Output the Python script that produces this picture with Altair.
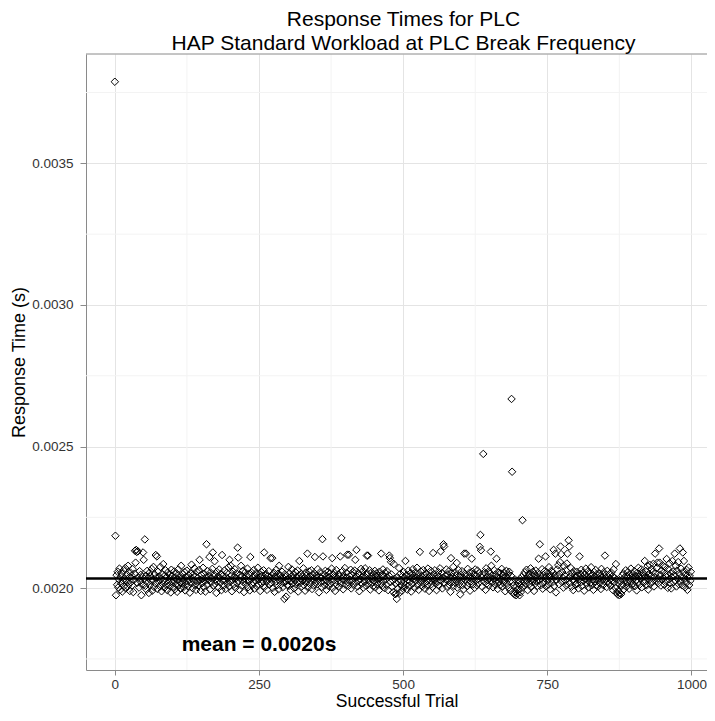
import altair as alt
import pandas as pd

# ---- text ----
title_lines = ["Response Times for PLC", "HAP Standard Workload at PLC Break Frequency"]
x_title = "Successful Trial"
y_title = "Response Time (s)"
annotation_text = "mean = 0.0020s"
annotation_x = [250]
annotation_y = [0.0018]
mean_response = [0.002034]   # horizontal mean line

# ---- ticks / grid ----
x_ticks = [0, 250, 500, 750, 1000]
y_ticks = [0.0020, 0.0025, 0.0030, 0.0035]
x_minor = [125, 375, 625, 875]
y_minor = [0.00175, 0.00225, 0.00275, 0.00325, 0.00375]

# ---- response times, microseconds (trial 0..999) ----
rt_000 = [3788, 2185, 1975, 2046, 2012, 2058, 2003, 2031, 2069, 1994,
          2040, 2017, 2052, 1988, 2027, 2063, 2008, 2035, 2071, 1999,
          2024, 2048, 2006, 2079, 2015, 2038, 1990, 2055, 2021, 2044,
          2010, 2067, 1986, 2029, 2051, 2132, 2090, 2135, 2128, 2019,
          2130, 2036, 2002, 2060, 2025, 2047, 1975, 2013, 2039, 2126,
          2100, 2033, 2172, 2008, 2044, 1995, 2061, 2020, 2037, 1983,
          2054, 2011, 2042, 2026, 2068, 1991, 2030, 2075, 2004, 2049,
          2018, 2117, 2036, 2112, 1997, 2058, 2023, 2041, 2007, 2075,
          2032, 1989, 2050, 2015, 2085, 2027, 2001, 2045, 2063, 2012,
          2038, 1993, 2056, 2022, 2009, 2047, 2034, 1985, 2065, 2019]
rt_100 = [2043, 2005, 2028, 2059, 1996, 2037, 2014, 2052, 1987, 2031,
          2066, 2010, 2040, 2021, 1998, 2079, 2035, 2016, 2049, 2003,
          2027, 2057, 1992, 2039, 2013, 2062, 2024, 2006, 2045, 2030,
          1984, 2053, 2018, 2083, 2034, 2000, 2047, 2026, 2070, 2011,
          2041, 1994, 2058, 2022, 2036, 2009, 2064, 2100, 2029, 1990,
          2046, 2017, 2033, 2072, 2004, 2051, 2025, 1988, 2038, 2155,
          2012, 2060, 2029, 2043, 2110, 1996, 2055, 2020, 2035, 2068,
          2126, 2008, 2048, 2095, 2015, 2031, 1983, 2057, 2024, 2041,
          2002, 2066, 2036, 2019, 2050, 1993, 2117, 2028, 2044, 2010,
          2062, 2027, 1997, 2039, 2054, 2016, 2033, 2074, 2006, 2100]
rt_200 = [2022, 2079, 2045, 1989, 2030, 2058, 2013, 2040, 2067, 2001,
          2035, 2052, 2018, 2143, 2108, 2026, 1995, 2047, 2037, 2079,
          2009, 2043, 2061, 2021, 1986, 2034, 2056, 2014, 2041, 2028,
          2069, 2003, 2049, 2024, 1992, 2110, 2032, 2055, 2011, 2038,
          2020, 2064, 1998, 2045, 2027, 2053, 2007, 2036, 2072, 2015,
          2031, 2048, 1990, 2039, 2057, 2017, 2044, 2025, 2063, 2126,
          2005, 2034, 2050, 2022, 1994, 2042, 2029, 2060, 2012, 2037,
          2106, 2019, 2046, 2106, 2001, 2033, 2054, 1987, 2040, 2023,
          2065, 2010, 2038, 2051, 1996, 2079, 2027, 2045, 2014, 2032,
          2058, 2003, 2036, 2020, 1962, 2049, 2026, 1970, 2043, 2011]
rt_300 = [2030, 2075, 2008, 2052, 2024, 1993, 2041, 2066, 2016, 2035,
          2047, 1999, 2028, 2057, 2013, 2039, 2021, 2062, 1988, 2044,
          2096, 2018, 2033, 2050, 2006, 2042, 2027, 2070, 2011, 2037,
          1991, 2055, 2023, 2046, 2122, 2002, 2031, 2059, 2015, 2040,
          2026, 2063, 1997, 2048, 2034, 2009, 2053, 2110, 2020, 2038,
          2045, 2014, 2067, 2029, 1985, 2041, 2056, 2019, 2036, 2004,
          2173, 2112, 2025, 2049, 2010, 2061, 2032, 1994, 2043, 2022,
          2058, 2007, 2038, 2052, 2016, 2030, 2069, 2106, 2001, 2047,
          2027, 2054, 1990, 2039, 2064, 2012, 2035, 2023, 2050, 2005,
          2042, 2112, 2018, 2177, 2033, 2060, 1996, 2045, 2028, 2071]
rt_400 = [2013, 2037, 2054, 2118, 2021, 2008, 2118, 2043, 2030, 2065,
          1999, 2048, 2025, 2057, 2011, 2034, 2062, 2100, 2019, 2135,
          2040, 2006, 2053, 2027, 1989, 2046, 2032, 2068, 2015, 2038,
          2059, 2002, 2044, 2023, 2070, 2010, 2036, 2115, 2051, 2115,
          2017, 2029, 2063, 1995, 2041, 2055, 2020, 2034, 2007, 2049,
          2026, 2061, 2003, 2039, 2052, 2014, 2044, 2030, 1992, 2058,
          2035, 2018, 2122, 2047, 2009, 2066, 2024, 2041, 2000, 2054,
          2031, 2012, 2060, 2037, 1993, 2045, 2115, 2106, 2021, 2093,
          2048, 2005, 2028, 1986, 2085, 2033, 1979, 2016, 1981, 1962,
          2039, 1998, 2022, 2071, 1984, 2050, 2010, 2027, 1991, 2043]
rt_500 = [2018, 2057, 2003, 2035, 2096, 2012, 2046, 1995, 2029, 2062,
          2008, 2040, 2023, 2053, 1988, 2036, 2015, 2067, 2031, 2044,
          2001, 2055, 2026, 2038, 2072, 2011, 2049, 1994, 2033, 2128,
          2020, 2058, 2042, 2006, 2030, 2064, 2016, 2047, 1998, 2037,
          2052, 2024, 2010, 2069, 2035, 1990, 2043, 2027, 2061, 2014,
          2039, 2004, 2124, 2050, 2028, 2063, 2017, 2034, 1993, 2046,
          2022, 2057, 2009, 2041, 2070, 2130, 2026, 2053, 1999, 2036,
          2155, 2147, 2018, 2044, 2031, 2066, 2005, 2048, 2025, 2059,
          2012, 2037, 1987, 2106, 2052, 2021, 2040, 2075, 2008, 2033,
          2056, 2019, 2045, 2089, 2002, 2030, 2064, 2014, 2038, 1978]
rt_600 = [2047, 2025, 2060, 2011, 2036, 1996, 2122, 2051, 2029, 2122,
          2043, 2007, 2068, 2032, 2017, 2054, 1991, 2040, 2024, 2104,
          2058, 2013, 2035, 2049, 2001, 2066, 2027, 2044, 2010, 2062,
          2031, 2019, 2053, 2146, 2188, 2134, 2038, 2005, 2047, 2474,
          2023, 2056, 2034, 1994, 2070, 2016, 2042, 2028, 2059, 2009,
          2037, 2051, 2129, 2079, 2020, 2045, 2003, 2033, 2063, 2014,
          2048, 2026, 2104, 2039, 1997, 2057, 2022, 2035, 2011, 2052,
          2030, 2068, 2006, 2043, 2018, 2055, 2027, 1989, 2040, 2061,
          2015, 2036, 2049, 2002, 2058, 2024, 1992, 2044, 2668, 2411,
          2021, 1983, 2010, 1978, 2031, 1987, 1975, 2006, 1981, 2017]
rt_700 = [1995, 2028, 1975, 2012, 1986, 2039, 2001, 2240, 2024, 2047,
          2009, 2056, 2033, 2018, 2065, 2027, 1993, 2042, 2051, 2014,
          2036, 2070, 2004, 2045, 2022, 2058, 2031, 1990, 2049, 2016,
          2062, 2025, 2038, 2008, 2053, 2104, 2029, 2155, 2043, 2011,
          2034, 2067, 1998, 2047, 2020, 2059, 2035, 2112, 2006, 2041,
          2026, 2052, 2013, 2074, 2038, 1996, 2046, 2061, 2019, 2032,
          2055, 2135, 2008, 2043, 2122, 1985, 2029, 2066, 2040, 2081,
          2014, 2050, 2092, 2147, 2120, 2023, 2057, 2036, 2002, 2078,
          2045, 2027, 2063, 2010, 2087, 2122, 2034, 2169, 2147, 2018,
          2041, 2071, 2005, 2053, 2030, 1993, 2060, 2024, 2046, 2012]
rt_800 = [2037, 2058, 2016, 2044, 1999, 2031, 2112, 2050, 2021, 2065,
          2008, 2039, 2054, 2026, 1991, 2047, 2033, 2069, 2015, 2042,
          2028, 2060, 2003, 2036, 2051, 2019, 2074, 2010, 2045, 2030,
          1994, 2057, 2023, 2040, 2064, 2012, 2049, 2027, 2006, 2035,
          2053, 2018, 2043, 1997, 2068, 2029, 2038, 2011, 2056, 2025,
          2115, 2034, 2047, 2004, 2061, 2022, 2039, 2015, 2050, 2031,
          2009, 2055, 2026, 2042, 1993, 2066, 2020, 2036, 2001, 2085,
          1984, 2030, 1978, 1990, 2017, 1975, 1982, 2024, 1979, 2008,
          2045, 2013, 2052, 1996, 2038, 2027, 2063, 2005, 2041, 2019,
          2057, 2032, 1998, 2046, 2023, 2069, 2011, 2037, 2050, 2016]
rt_900 = [2035, 2060, 2007, 2043, 2028, 1992, 2054, 2021, 2072, 2040,
          2012, 2048, 2033, 2066, 2003, 2038, 2055, 2019, 2045, 2096,
          2026, 2061, 2010, 2037, 2078, 1995, 2050, 2030, 2082, 2015,
          2044, 2068, 2022, 2057, 2086, 2006, 2039, 2122, 2052, 2027,
          2071, 2090, 2034, 2018, 2140, 2090, 2047, 2009, 2063, 2031,
          2080, 2036, 2055, 2012, 2074, 2042, 2025, 2103, 2049, 2001,
          2066, 2031, 2088, 2017, 2053, 1999, 2038, 2096, 2059, 2021,
          2045, 2122, 2028, 2079, 2006, 2062, 2034, 2092, 2014, 2051,
          2140, 2024, 2069, 2040, 2010, 2126, 2057, 2096, 2032, 2003,
          2048, 2019, 2064, 1994, 2037, 2073, 2011, 2043, 2026, 2058]

response_us = rt_000 + rt_100 + rt_200 + rt_300 + rt_400 + rt_500 + rt_600 + rt_700 + rt_800 + rt_900
df = pd.DataFrame({"trial": list(range(len(response_us))),
                   "response": [v / 1e6 for v in response_us]})

# ---- layout / style ----
W, H = 621, 616
FONT = "Liberation Sans"
BORDER = "#8a8a8a"

xscale = alt.Scale(domain=[-50, 1027], nice=False, zero=False)
yscale = alt.Scale(domain=[0.001711, 0.003886], nice=False, zero=False)
xaxis = alt.Axis(values=x_ticks, format="d", title=x_title)
yaxis = alt.Axis(values=y_ticks, format=".4f", title=y_title)


def X(field="trial:Q"):
    return alt.X(field, scale=xscale, axis=xaxis)


def Y(field="response:Q"):
    return alt.Y(field, scale=yscale, axis=yaxis)


minor_v = alt.Chart(pd.DataFrame({"trial": x_minor})).mark_rule(
    color="#f3f3f3", strokeWidth=1
).encode(x=X())

minor_h = alt.Chart(pd.DataFrame({"response": y_minor})).mark_rule(
    color="#f3f3f3", strokeWidth=1
).encode(y=Y())

points = alt.Chart(df).mark_point(
    shape="diamond", filled=False, color="black", size=56, strokeWidth=1, opacity=1
).encode(x=X(), y=Y())

mean_line = alt.Chart(pd.DataFrame({"response": mean_response})).mark_rule(
    color="black", strokeWidth=2.5
).encode(y=Y())

label = alt.Chart(pd.DataFrame({"trial": annotation_x, "response": annotation_y,
                                "text": [annotation_text]})).mark_text(
    font=FONT, fontSize=21, fontWeight="bold", color="black",
    align="center", baseline="middle"
).encode(x=X(), y=Y(), text="text:N")

top_border = alt.Chart(pd.DataFrame({"response": [0]})).mark_rule(
    color=BORDER, strokeWidth=1
).encode(x=alt.value(0), x2=alt.value(W), y=alt.value(0))

chart = alt.layer(minor_v, minor_h, points, mean_line, label, top_border).properties(
    width=W, height=H,
    title=alt.TitleParams(title_lines, font=FONT, fontSize=21, fontWeight="normal",
                          color="black", anchor="middle", frame="group",
                          lineHeight=24, offset=-0.5, dx=7),
    padding={"left": 78, "top": 46, "right": 0, "bottom": 39},
    autosize=alt.AutoSizeParams(type="none"),
).configure_view(stroke=None).configure_axis(
    labelFont=FONT, labelFontSize=13.5, labelColor="#333333",
    titleFont=FONT, titleFontSize=18, titleFontWeight="normal", titleColor="black",
    domainColor=BORDER, domainWidth=1,
    tickColor=BORDER, tickWidth=1,
    gridColor="#e4e4e4", gridWidth=1,
).configure_axisX(
    tickSize=5, labelPadding=2, titlePadding=2, titleFontSize=17.5,
).configure_axisY(
    tickSize=6, labelPadding=7, titlePadding=3,
)

chart.save("out.html", embed_options={"renderer": "svg", "actions": False})
